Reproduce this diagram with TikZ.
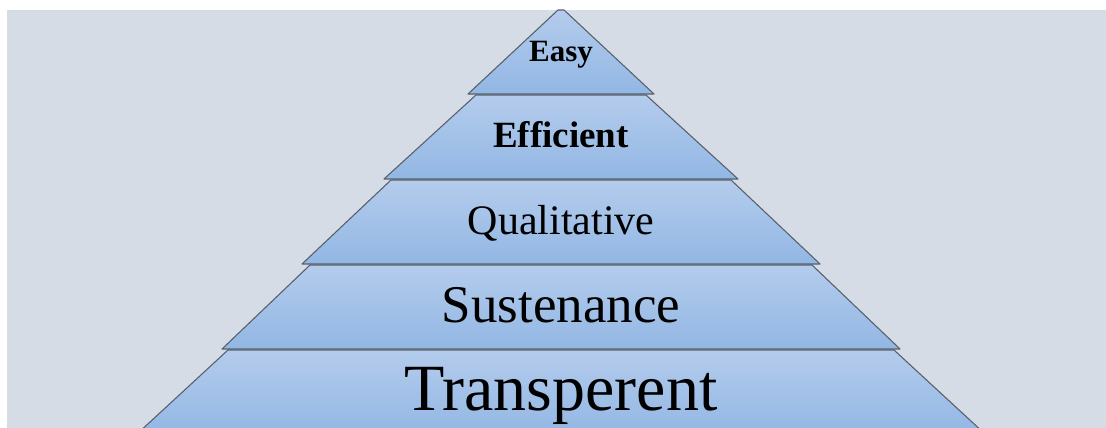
\documentclass[tikz,border=0pt]{standalone}
\usepackage{fontspec}
\setmainfont{Liberation Serif}
\newfontfamily\tierserif{Liberation Serif}
\usepackage{xcolor}
\usepackage{tikz}
\usetikzlibrary{positioning,calc}

\definecolor{bgcol}{RGB}{213,220,230}
\definecolor{laytop}{RGB}{180,204,236}
\definecolor{laybot}{RGB}{146,183,228}
\definecolor{edgecol}{RGB}{88,98,110}

\tikzset{
    layer/.style={draw=edgecol, line width=1.1pt, line join=round,
        top color=laytop, bottom color=laybot},
    tier/.style={anchor=base, text=black}
}

\newcommand{\tierfont}[1]{\tierserif\fontsize{#1}{#1}\selectfont}

\begin{document}
\begin{tikzpicture}[x=1pt, y=-1pt]
    \useasboundingbox (0,0) rectangle (1106,428);

    % Background panel
    \fill[bgcol] (7,10) rectangle (1106,428);

    % Pyramid layers: index / half width at top / half width at bottom
    \begin{scope}
        \clip (7,10) rectangle (1106,428);
        \foreach \i/\wt/\wb in {0/3/93, 1/85/177, 2/170/259, 3/251/339, 4/333/424} {
            \path[layer] ($(561-\wt, 10+85*\i)$) -- ($(561+\wt, 10+85*\i)$)
                -- ($(561+\wb, 94+85*\i)$) -- ($(561-\wb, 94+85*\i)$) -- cycle;
        }
    \end{scope}

    % Labels
    \node[tier, font=\tierfont{31}\bfseries] (easy) at (561,62) {Easy};
    \node[tier, font=\tierfont{37}\bfseries] (efficient) at (561,147) {Efficient};
    \node[tier, font=\tierfont{42}] (qualitative) at (561,234) {Qualitative};
    \node[tier, font=\tierfont{53}] (sustenance) at (561,322) {Sustenance};
    \node[tier, font=\tierfont{66}] (transperent) at (561,410) {Transperent};
\end{tikzpicture}
\end{document}
